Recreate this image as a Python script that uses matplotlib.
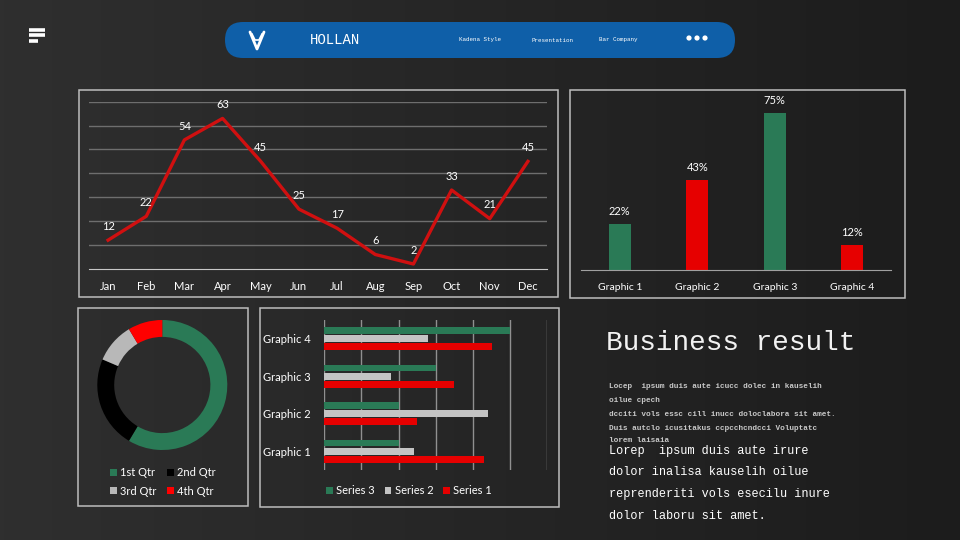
#!/usr/bin/env python3
import matplotlib
matplotlib.use('Agg')
import matplotlib.pyplot as plt
from matplotlib.patches import FancyBboxPatch, Rectangle, Circle
import numpy as np

plt.rcParams['font.family'] = ['Lato', 'DejaVu Sans']

# line chart data
months = ['Jan', 'Feb', 'Mar', 'Apr', 'May', 'Jun', 'Jul', 'Aug', 'Sep', 'Oct', 'Nov', 'Dec']
monthly = [12, 22, 54, 63, 45, 25, 17, 6, 2, 33, 21, 45]

# column chart data
col_names = ['Graphic 1', 'Graphic 2', 'Graphic 3', 'Graphic 4']
col_values = [22, 43, 75, 12]

# doughnut data
qtr_names = ['1st Qtr', '2nd Qtr', '3rd Qtr', '4th Qtr']
qtr_values = [8.2, 3.2, 1.4, 1.2]

# horizontal bars data
hbar_names = ['Graphic 1', 'Graphic 2', 'Graphic 3', 'Graphic 4']
series1 = [4.3, 2.5, 3.5, 4.5]
series2 = [2.4, 4.4, 1.8, 2.8]
series3 = [2, 2, 3, 5]

nav_items = ['Kadena Style', 'Presentation', 'Bar Company']
small_lines = ['Locep  ipsum duis aute icucc dolec in kauselih',
               'oilue cpech',
               'dcciti vols essc cill inucc doloclabora sit amet.',
               'Duis autclo icusitakus ccpcchcndcci Voluptatc',
               'lorem laisaia']
big_lines = ['Lorep  ipsum duis aute irure',
             'dolor inalisa kauselih oilue',
             'reprenderiti vols esecilu inure',
             'dolor laboru sit amet.']

GREEN = '#2a7a56'
RED = '#e60000'
GRAY = '#c4c4c4'
W, H = 960, 540


def rect(x0, y0, x1, y1):
    # pixel box (top-left origin) -> figure fraction rect
    return [x0 / W, 1 - y1 / H, (x1 - x0) / W, (y1 - y0) / H]


fig = plt.figure(figsize=(9.6, 5.4), dpi=100)

# background with a soft gradient
bg = fig.add_axes([0, 0, 1, 1], zorder=-5)
grad = np.linspace(0, 1, 256)[None, :]
bg.imshow(grad, extent=[0, W, H, 0], aspect='auto',
          cmap=matplotlib.colors.LinearSegmentedColormap.from_list('bg', ['#2f2f2f', '#1c1c1c']))
bg.set_xlim(0, W)
bg.set_ylim(H, 0)
bg.axis('off')

# panel frames
for x0, y0, x1, y1 in [(79, 90, 558, 297), (570, 90, 905, 298), (78, 308, 248, 506), (260, 308, 559, 507)]:
    bg.add_patch(Rectangle((x0, y0), x1 - x0, y1 - y0, fill=False, ec='#bdbdbd', lw=1.1))

# header bar
bg.add_patch(FancyBboxPatch((225, 22), 510, 36, boxstyle='round,pad=0,rounding_size=18',
                            fc='#0f5fa8', ec='none'))
bg.text(335, 40, 'HOLLAN', family='Liberation Mono', fontsize=10, color='white', ha='center', va='center')
for name, x in zip(nav_items, [480, 553, 618]):
    bg.text(x, 40, name, family='Liberation Mono', fontsize=4.2, color='white', ha='center', va='center')
for x in [689, 697, 705]:
    bg.add_patch(Circle((x, 38), 2.6, fc='white', ec='none'))
# logo
bg.plot([250, 257, 264], [32, 49, 32], color='white', lw=2, solid_capstyle='round')
bg.plot([252, 255, 259, 262], [34, 40, 40, 34], color='white', lw=1.2)
# menu icon
for y, x1 in [(29.5, 45), (35, 45), (40.5, 38)]:
    bg.plot([29, x1], [y, y], color='white', lw=2.6, solid_capstyle='butt')

# line chart
ax = fig.add_axes(rect(89, 101.7, 547, 268.8))
ax.set_facecolor('none')
x = np.arange(len(months))
ax.plot(x, monthly, color='#d01010', lw=2.4)
for i, v in enumerate(monthly):
    ax.annotate(str(v), (i, v), xytext=(0, 10), textcoords='offset points',
                ha='center', va='center', color='white', fontsize=8)
ax.set_xlim(-0.5, 11.5)
ax.set_ylim(0, 70)
ax.set_yticks(range(10, 71, 10))
ax.yaxis.grid(True, color='#6e6e6e', lw=1)
ax.tick_params(axis='y', left=False, labelleft=False)
ax.set_xticks(x)
ax.set_xticklabels(months)
ax.tick_params(axis='x', length=0, colors='white', labelsize=8, pad=9)
for s in ['top', 'left', 'right']:
    ax.spines[s].set_visible(False)
ax.spines['bottom'].set_color('#c8c8c8')
ax.set_axisbelow(True)

# column chart
ax2 = fig.add_axes(rect(581, 102.2, 891, 270))
ax2.set_facecolor('none')
xc = np.arange(len(col_names))
ax2.bar(xc, col_values, width=0.29, color=[GREEN, RED, GREEN, RED])
for i, v in enumerate(col_values):
    ax2.annotate(f'{v}%', (i, v), xytext=(0, 9), textcoords='offset points',
                 ha='center', va='center', color='white', fontsize=8)
ax2.set_xlim(-0.5, 3.5)
ax2.set_ylim(0, 80)
ax2.set_yticks([])
ax2.set_xticks(xc)
ax2.set_xticklabels(col_names)
ax2.tick_params(axis='x', length=0, colors='white', labelsize=7.5, pad=9)
for s in ['top', 'left', 'right']:
    ax2.spines[s].set_visible(False)
ax2.spines['bottom'].set_color('#a0a0a0')

# doughnut
ax3 = fig.add_axes(rect(97.3, 320, 227.3, 450))
wedges, _ = ax3.pie(qtr_values, colors=[GREEN, '#000000', '#b8b8b8', '#ff0000'],
                    startangle=90, counterclock=False, wedgeprops=dict(width=0.26, lw=0))
ax3.set_xlim(-1, 1)
ax3.set_ylim(-1, 1)
ax3.set_aspect('equal')
# legend fills column-wise, so reorder to read row-wise
order = [0, 2, 1, 3]
fig.legend([wedges[i] for i in order], [qtr_names[i] for i in order], loc='center',
           bbox_to_anchor=(163 / W, 1 - 482 / H), ncol=2,
           frameon=False, fontsize=8, labelcolor='white', handlelength=0.6, handleheight=0.6,
           handletextpad=0.3, columnspacing=1.0, labelspacing=0.65)

# horizontal bars
ax4 = fig.add_axes(rect(324.3, 320, 547.3, 470))
ax4.set_facecolor('none')
yb = np.arange(len(hbar_names))
h = 0.18
b3 = ax4.barh(yb + 0.22, series3, height=h, color=GREEN, label='Series 3')
b2 = ax4.barh(yb, series2, height=h, color=GRAY, label='Series 2')
b1 = ax4.barh(yb - 0.21, series1, height=h, color=RED, label='Series 1')
ax4.set_xlim(0, 6)
ax4.set_ylim(-0.5, 3.5)
ax4.set_xticks(range(0, 7))
ax4.xaxis.grid(True, color='#909090', lw=1)
ax4.set_axisbelow(True)
ax4.tick_params(axis='x', bottom=False, labelbottom=False)
ax4.set_yticks(yb)
ax4.set_yticklabels(hbar_names)
ax4.tick_params(axis='y', length=0, colors='white', labelsize=8, pad=10)
for s in ax4.spines.values():
    s.set_visible(False)
fig.legend([b3, b2, b1], ['Series 3', 'Series 2', 'Series 1'], loc='center',
           bbox_to_anchor=(409 / W, 1 - 491 / H), ncol=3, frameon=False, fontsize=8,
           labelcolor='white', handlelength=0.6, handleheight=0.6, handletextpad=0.3,
           columnspacing=0.9)

# text block
bg.text(606, 343, 'Business result', family='Liberation Mono', fontsize=20,
        color='#f2f2f2', ha='left', va='center')
for t, y in zip(small_lines, [386, 400, 414, 428, 441]):
    bg.text(609, y, t, family='Liberation Mono', fontsize=5.6, weight='bold',
            color='#c8c8c8', ha='left', va='center')
for t, y in zip(big_lines, [451, 472, 494, 516]):
    bg.text(609, y, t, family='Liberation Mono', fontsize=8.6,
            color='white', ha='left', va='center')

fig.savefig('out.png', dpi=100)
